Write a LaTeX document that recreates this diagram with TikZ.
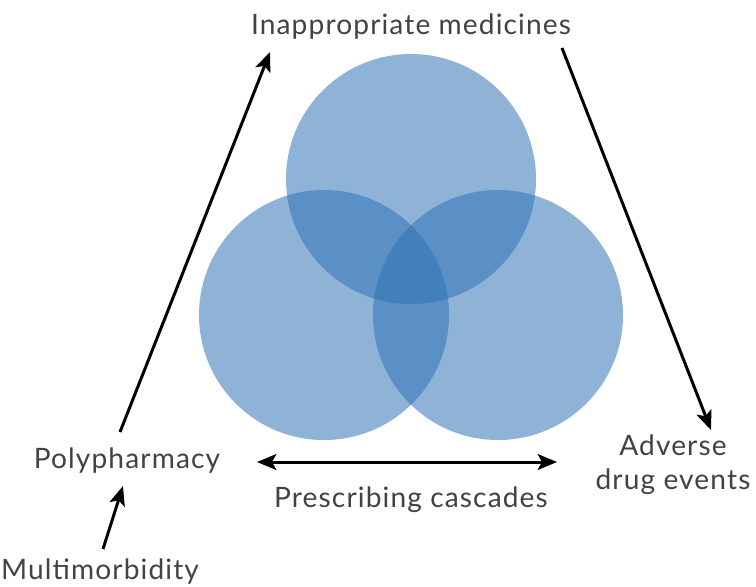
\documentclass[tikz,border=0pt]{standalone}
\usepackage{fontspec}
\setmainfont{Lato}[LetterSpace=4]
\usetikzlibrary{arrows.meta,calc}
\definecolor{vennblue}{RGB}{46,114,181}
\definecolor{labelgrey}{RGB}{66,66,66}
\tikzset{
  lbl/.style={text=labelgrey, font=\fontsize{16}{19.5}\selectfont, inner sep=0pt, align=center},
  venn/.style={fill=vennblue, fill opacity=0.54},
  tip/.tip={Stealth[length=11pt,width=9pt,inset=2.5pt]},
  link/.style={-tip, line width=1.7pt, black}
}
\begin{document}
\begin{tikzpicture}[x=0.02cm,y=-0.02cm]
    \useasboundingbox (0,0) rectangle (756,586);
    % the three sets
    \fill[venn] (411,179) circle (125);
    \fill[venn] (324,315) circle (125);
    \fill[venn] (498,315) circle (125);
    % labels
    \node[lbl] (inapp) at (411,27) {Inappropriate medicines};
    \node[lbl] (poly) at (127,461) {Polypharmacy};
    \node[lbl] (multi) at (100,572) {Multimorbidity};
    \node[lbl] (adverse) at (673,465) {Adverse\\drug events};
    \node[lbl] (casc) at (411,500) {Prescribing cascades};
    % arrows
    \draw[link] ($(poly)+(-7,-29)$) -- ($(inapp)+(-141,25)$);
    \draw[link] ($(inapp)+(151,21)$) -- ($(adverse)+(38,-35)$);
    \draw[link,tip-tip] ($(casc)+(-154,-38)$) -- ($(casc)+(146,-38)$);
    \draw[link] ($(multi)+(3,-23)$) -- ($(poly)+(-4,25)$);
\end{tikzpicture}
\end{document}
